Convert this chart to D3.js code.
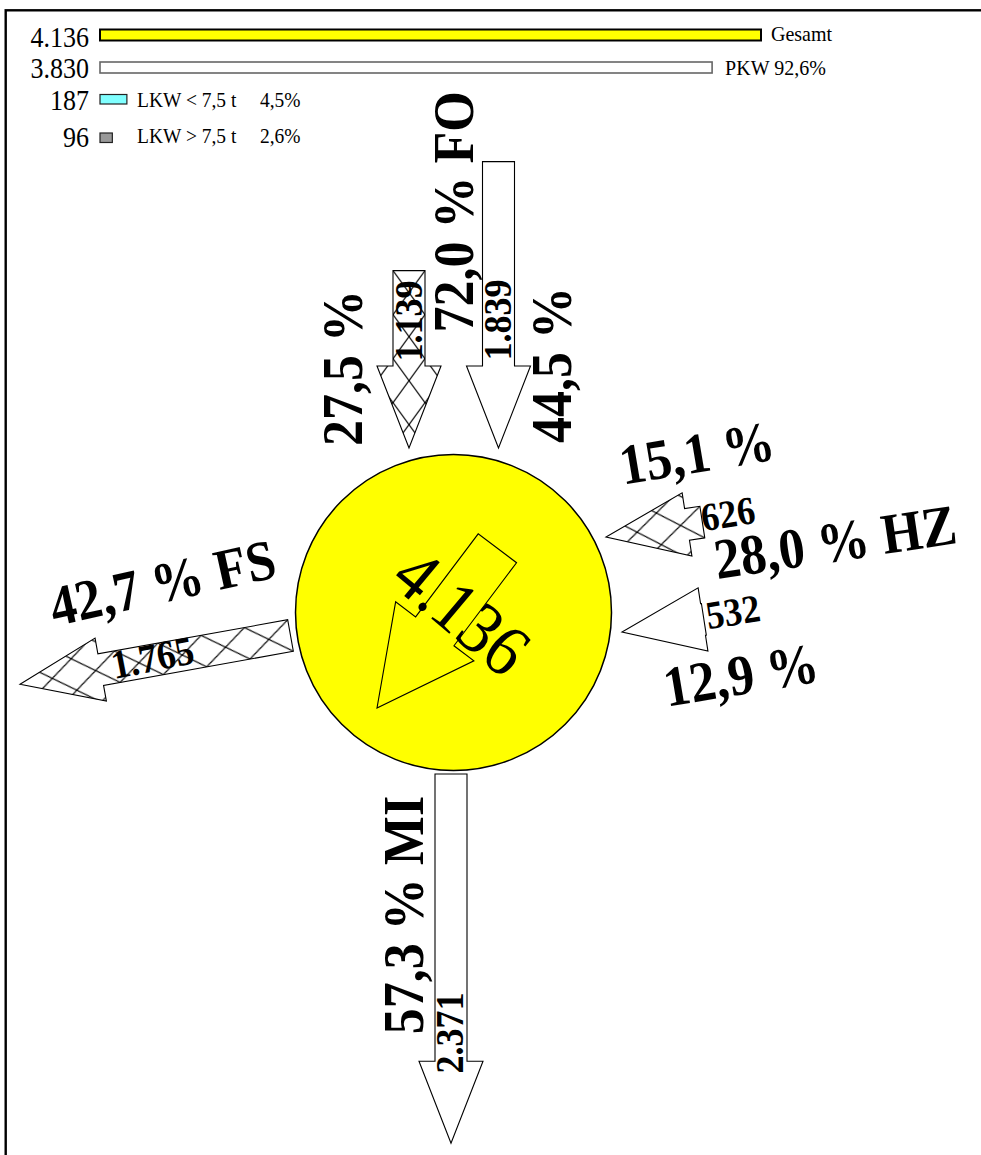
<!DOCTYPE html>
<html><head><meta charset="utf-8">
<script src="https://cdn.jsdelivr.net/npm/d3@7"></script>
<style>html,body{margin:0;padding:0;background:#fff;}svg{display:block;}</style>
</head><body>
<svg id="chart" width="981" height="1155"></svg>
<script>
// ---------- data ----------
const legendLabels = ["Gesamt", "PKW", "LKW < 7,5 t", "LKW > 7,5 t"];
const legendValues = [4136, 3830, 187, 96];
const legendShares = ["", "92,6%", "4,5%", "2,6%"];

const totalValue = 4136;

// individual flows
const flowValues = [1139, 1839, 626, 532, 1765, 2371];
const flowShares = ["27,5 %", "44,5 %", "15,1 %", "12,9 %", "42,7 %", "57,3 %"];
const flowHatched = [true, false, true, false, true, false];

// arm summaries
const armNames = ["FO", "HZ", "FS", "MI"];
const armShares = ["72,0 %", "28,0 %"];

// ---------- setup ----------
const svg = d3.select("#chart");
const SERIF = "'Liberation Serif','Times New Roman',Times,serif";
const deFmt = d3.formatLocale({decimal: ",", thousands: ".", grouping: [3], currency: ["", ""]});
const fmtInt = deFmt.format(",");
const STRETCH = 1.1;

const defs = svg.append("defs");
const pat = defs.append("pattern").attr("id", "hatch")
  .attr("patternUnits", "userSpaceOnUse").attr("x", 0).attr("y", -16)
  .attr("width", 44).attr("height", 32);
pat.append("rect").attr("width", 44).attr("height", 32).attr("fill", "#fff");
pat.append("path").attr("d", "M0,0L44,32M44,0L0,32").attr("stroke", "#000").attr("stroke-width", 1.1).attr("fill", "none");

// frame
svg.append("rect").attr("x", 5.7).attr("y", 10.3).attr("width", 1100).attr("height", 1300)
  .attr("fill", "none").attr("stroke", "#000").attr("stroke-width", 2.4);

// ---------- legend ----------
const xBar = d3.scaleLinear().domain([0, totalValue]).range([0, 661]);
const barX0 = 100;
const rowBarY = [29.5, 62, 94.5, 133];
const rowBarH = [11, 11, 9.5, 9.5];
const rowTextY = [46.5, 78, 110, 146.5];
const rowLabelY = [40.5, 75, 106.5, 142.5];
const barFill = ["#ffff00", "#ffffff", "#80ffff", "#999999"];
const barStroke = ["#000", "#666", "#222", "#222"];
const barSW = [2, 1.6, 1.2, 1.2];

function plainText(str, x, y, size, anchor) {
  svg.append("text")
    .attr("transform", `translate(${x},${y}) scale(1,${STRETCH})`)
    .attr("text-anchor", anchor || "start")
    .attr("font-family", SERIF).attr("font-size", size)
    .text(str);
}

legendValues.forEach((v, i) => {
  plainText(fmtInt(v), 89, rowTextY[i], 26, "end");
  const w = i < 2 ? xBar(v) : xBar(v) - 3;
  svg.append("rect").attr("x", barX0).attr("y", rowBarY[i]).attr("width", w).attr("height", rowBarH[i])
    .attr("fill", barFill[i]).attr("stroke", barStroke[i]).attr("stroke-width", barSW[i]);
  if (i < 2) {
    plainText(legendLabels[i] + (legendShares[i] ? " " + legendShares[i] : ""),
      barX0 + xBar(v) + (i === 0 ? 10 : 13), rowLabelY[i], 20);
  } else {
    plainText(legendLabels[i], 137, rowLabelY[i], 19.5);
    plainText(legendShares[i], 260, rowLabelY[i], 19.5);
  }
});

// ---------- node ----------
const cx = 453.5, cy = 612.5, R = 158;
svg.append("circle").attr("cx", cx).attr("cy", cy).attr("r", R)
  .attr("fill", "#ffff00").attr("stroke", "#000").attr("stroke-width", 1.5);

// arrow length scale
const len = d3.scaleLinear().domain([0, totalValue]).range([0, 644]);

function arrowPath(L, w, hw, hl) {
  if (L <= hl) {
    return `M0,${-hw/2}L${L},0L0,${hw/2}Z`;
  }
  return `M0,${-w/2}L${L-hl},${-w/2}L${L-hl},${-hw/2}L${L},0L${L-hl},${hw/2}L${L-hl},${w/2}L0,${w/2}Z`;
}
function drawArrow(value, x, y, angle, anchor, hatched, opts) {
  const o = Object.assign({w: 32, hw: 64, hl: 82, fill: "#fff"}, opts || {});
  const L = o.L || len(value);
  const g = svg.append("g");
  let t;
  if (anchor === "tip") t = `translate(${x},${y}) rotate(${angle}) translate(${-L},0)`;
  else t = `translate(${x},${y}) rotate(${angle})`;
  g.attr("transform", t);
  g.append("path").attr("d", arrowPath(L, o.w, o.hw, o.hl))
    .attr("fill", hatched ? "url(#hatch)" : o.fill)
    .attr("stroke", "#000").attr("stroke-width", 1.1).attr("stroke-linejoin", "miter");
  return g;
}

// flows
drawArrow(flowValues[0], 409, 448, 90, "tip", flowHatched[0]);
drawArrow(flowValues[1], 498.5, 448, 90, "tip", flowHatched[1]);
drawArrow(flowValues[2], 606, 537, 171.2, "tip", flowHatched[2]);
drawArrow(flowValues[3], 622, 632, 171.2, "tip", flowHatched[3]);
drawArrow(flowValues[4], 290.5, 635.5, 169.8, "tail", flowHatched[4]);
drawArrow(flowValues[5], 451, 774, 90, "tail", flowHatched[5]);

// center arrow
drawArrow(totalValue, 377, 708, 127, "tip", false, {L: 200, w: 48, hw: 98, hl: 96, fill: "none"});

// ---------- labels ----------
function label(str, x, y, angle, size, bold) {
  svg.append("text")
    .attr("transform", `translate(${x},${y}) rotate(${angle}) scale(1,${STRETCH})`)
    .attr("text-anchor", "middle")
    .attr("font-family", SERIF).attr("font-size", size)
    .attr("font-weight", bold ? "bold" : "normal")
    .text(str);
}
const BIG = 52, SMALL = 36;
label(armShares[0] + " " + armNames[0], 473, 212, -90, BIG, true);
label(flowShares[0], 362, 368, -90, BIG, true);
label(flowShares[1], 571, 365, -90, BIG, true);
label(fmtInt(flowValues[0]), 422, 321, -90, SMALL, true);
label(fmtInt(flowValues[1]), 511, 320, -90, SMALL, true);

label(flowShares[2], 700, 472, -9.5, BIG, true);
label(fmtInt(flowValues[2]), 730, 527, -9, SMALL, true);
label(armShares[1] + " " + armNames[1], 838, 561, -8.5, BIG, true);
label(fmtInt(flowValues[3]), 735, 625, -9, SMALL, true);
label(flowShares[3], 744, 694, -9.5, BIG, true);

label(flowShares[4] + " " + armNames[2], 166.5, 601.6, -12.5, BIG, true);
label(fmtInt(flowValues[4]), 155, 671, -11, 37, true);

label(flowShares[5] + " " + armNames[3], 423, 915, -90, BIG, true);
label(fmtInt(flowValues[5]), 463, 1033, -90, SMALL, true);

label(fmtInt(totalValue), 446, 631, 40, 67, false);
</script>
</body></html>
